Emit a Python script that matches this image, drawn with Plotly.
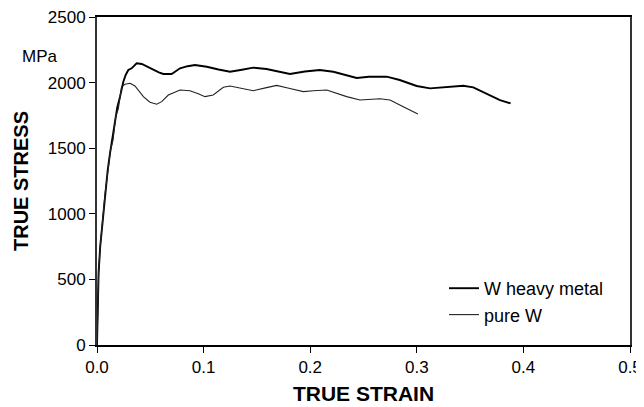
import plotly.graph_objects as go

# W heavy metal
heavy_strain = [0, 0.0005, 0.0015, 0.003, 0.0053, 0.0075, 0.0100, 0.0122, 0.0150, 0.0169,
                0.0190, 0.0216, 0.0247, 0.0270, 0.0294, 0.0325, 0.0372, 0.042, 0.0475, 0.0528,
                0.0580, 0.0622, 0.070, 0.0779, 0.085, 0.0919, 0.103, 0.114, 0.1248, 0.136,
                0.1466, 0.159, 0.170, 0.181, 0.195, 0.209, 0.2217, 0.2330, 0.2436, 0.255,
                0.2718, 0.284, 0.2999, 0.3124, 0.3249, 0.3436, 0.353, 0.3656, 0.378, 0.388]
heavy_stress = [0, 300, 550, 750, 953, 1156, 1330, 1461, 1620, 1715,
                1810, 1893, 2007, 2060, 2096, 2109, 2147, 2142, 2120, 2096,
                2078, 2066, 2066, 2109, 2125, 2134, 2121, 2100, 2083, 2098,
                2114, 2104, 2085, 2066, 2085, 2096, 2083, 2060, 2035, 2045,
                2045, 2020, 1974, 1956, 1964, 1976, 1964, 1918, 1867, 1842]

# pure W
pure_strain = [0, 0.0005, 0.0015, 0.003, 0.005, 0.0075, 0.0100, 0.0125, 0.0150, 0.0175,
               0.0200, 0.0231, 0.0263, 0.031, 0.0356, 0.0388, 0.0435, 0.0497, 0.056, 0.0607,
               0.0669, 0.0779, 0.0872, 0.0950, 0.1013, 0.109, 0.1185, 0.1248, 0.136, 0.1466,
               0.158, 0.1686, 0.181, 0.1935, 0.203, 0.2155, 0.2342, 0.2467, 0.2655, 0.2749,
               0.2873, 0.301]
pure_stress = [0, 300, 550, 750, 940, 1150, 1310, 1480, 1560, 1740,
               1800, 1969, 1987, 1995, 1974, 1944, 1893, 1850, 1835, 1855,
               1905, 1944, 1938, 1915, 1893, 1905, 1964, 1974, 1955, 1938,
               1960, 1979, 1955, 1931, 1938, 1944, 1893, 1867, 1877, 1867,
               1816, 1761]

x_ticks = [0.0, 0.1, 0.2, 0.3, 0.4, 0.5]
x_tick_labels = ["0.0", "0.1", "0.2", "0.3", "0.4", "0.5"]
y_ticks = [0, 500, 1000, 1500, 2000, 2500]

FONT = "Liberation Sans, Arial, sans-serif"
OFF = 8  # page body margin
W, H = 644 - OFF, 407 - OFF
L, R, T, B = 97 - OFF, 14, 17 - OFF, 62

pw = W - L - R
ph = H - T - B


def px_x(x):
    return (x - OFF - L) / pw


def px_y(y):
    return (H - B - (y - OFF)) / ph


fig = go.Figure()
fig.add_trace(go.Scatter(x=heavy_strain, y=heavy_stress, mode="lines", name="W heavy metal",
                         line=dict(color="black", width=1.9)))
fig.add_trace(go.Scatter(x=pure_strain, y=pure_stress, mode="lines", name="pure W",
                         line=dict(color="#222222", width=1.1)))

fig.update_layout(
    width=W, height=H,
    margin=dict(l=L, r=R, t=T, b=B),
    paper_bgcolor="white", plot_bgcolor="white",
    font=dict(family=FONT, size=17, color="black"),
    showlegend=True,
    legend=dict(x=px_x(444), y=px_y(270), xanchor="left", yanchor="top",
                bgcolor="rgba(0,0,0,0)", itemwidth=30,
                font=dict(size=18)),
    xaxis=dict(range=[0, 0.5], tickvals=x_ticks, ticktext=x_tick_labels,
               ticks="outside", ticklen=6, tickcolor="black", tickwidth=1,
               showline=True, linecolor="black", linewidth=2, mirror=True,
               showgrid=False, zeroline=False, automargin=False,
               ticklabeloverflow="allow",
               title=dict(text="<b>TRUE STRAIN</b>", font=dict(size=21), standoff=10)),
    yaxis=dict(range=[0, 2500], tickvals=y_ticks,
               ticks="outside", ticklen=6, tickcolor="black", tickwidth=1,
               showline=True, linecolor="#333333", linewidth=2, mirror=True,
               showgrid=False, zeroline=False, automargin=False,
               ticklabeloverflow="allow",
               title=dict(text="<b>TRUE STRESS</b>", font=dict(size=20), standoff=14)),
    annotations=[dict(text="MPa", x=px_x(40), y=px_y(56), xanchor="center", yanchor="middle",
                      xref="paper", yref="paper", showarrow=False,
                      font=dict(size=17))],
)

fig.write_html("out.html")
